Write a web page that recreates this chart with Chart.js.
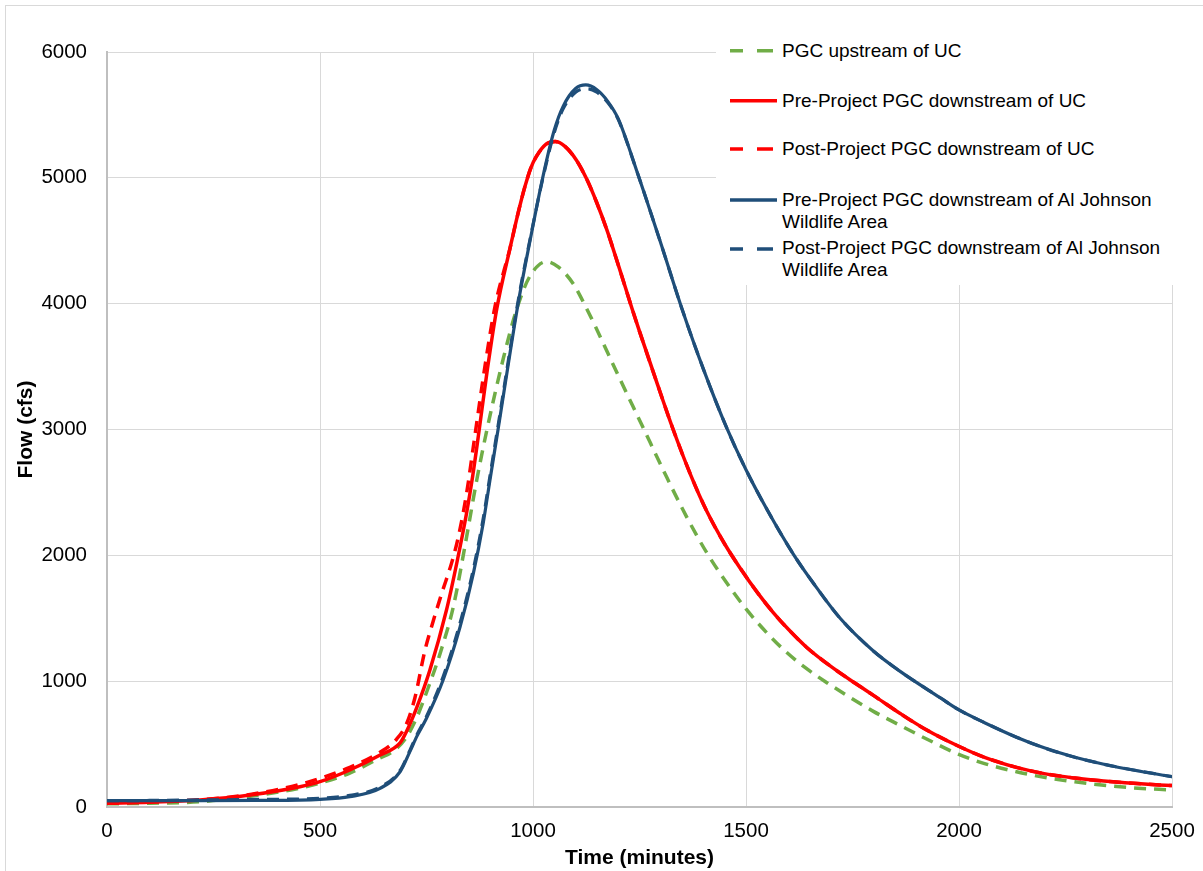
<!DOCTYPE html>
<html>
<head>
<meta charset="utf-8">
<script src="https://cdn.jsdelivr.net/npm/chart.js@4.4.1/dist/chart.umd.min.js"></script>
<style>
html,body{margin:0;padding:0;background:#fff;width:1203px;height:871px;overflow:hidden;font-family:"Liberation Sans",Arial,sans-serif;}
#frame{position:absolute;left:5px;top:5px;width:1300px;height:1000px;border:1px solid #d9d9d9;}
#c{position:absolute;left:0;top:0;}
#legend{position:absolute;left:716px;top:30px;width:487px;height:255px;background:#fff;}
.item{position:absolute;left:66px;font-size:19px;line-height:21.7px;white-space:nowrap;color:#000;}
svg.s{position:absolute;left:0;top:0;overflow:visible;}
</style>
</head>
<body>
<div id="frame"></div>
<canvas id="c" width="1203" height="871"></canvas>
<div id="legend"></div>
<script>
// ---- data (time in minutes, flow in cfs) ----
const seriesLabels = [
  "PGC upstream of UC",
  "Pre-Project PGC downstream of UC",
  "Post-Project PGC downstream of UC",
  "Pre-Project PGC downstream of Al Johnson\nWildlife Area",
  "Post-Project PGC downstream of Al Johnson\nWildlife Area"
];
const xTicks = [0, 500, 1000, 1500, 2000, 2500];
const yTicks = [0, 1000, 2000, 3000, 4000, 5000, 6000];

const upT = [0, 100, 218, 336, 453, 500, 570, 641, 670, 700, 727, 758, 782, 813, 840, 868, 892, 930, 962, 993, 1032, 1060, 1094, 1126, 1149, 1200, 1255, 1314, 1360, 1408, 1455, 1501, 1550, 1595, 1640, 1689, 1740, 1799, 1861, 1930, 1998, 2060, 2135, 2200, 2272, 2340, 2409, 2500];
const upQ = [25, 30, 42, 85, 150, 190, 270, 390, 440, 540, 710, 985, 1221, 1592, 2069, 2599, 3000, 3560, 3960, 4220, 4334, 4290, 4160, 3960, 3800, 3430, 3040, 2620, 2310, 2020, 1780, 1570, 1380, 1230, 1105, 990, 880, 760, 650, 530, 420, 345, 280, 236, 200, 172, 152, 135];

const preUcT = [0, 100, 218, 336, 453, 500, 570, 641, 688, 703, 727, 758, 797, 821, 844, 858, 871, 893, 915, 946, 965, 981, 995, 1008, 1030, 1052, 1075, 1102, 1126, 1150, 1173, 1200, 1232, 1251, 1290, 1329, 1370, 1408, 1450, 1486, 1530, 1564, 1600, 1642, 1700, 1760, 1800, 1861, 1920, 1998, 2060, 2135, 2200, 2272, 2340, 2409, 2500];
const preUcQ = [30, 38, 56, 95, 161, 201, 294, 413, 510, 600, 790, 1089, 1566, 1937, 2334, 2620, 2930, 3480, 3960, 4440, 4720, 4930, 5080, 5170, 5265, 5288, 5250, 5140, 4990, 4800, 4590, 4310, 3966, 3770, 3380, 3000, 2640, 2350, 2090, 1900, 1690, 1545, 1410, 1270, 1115, 975, 885, 745, 620, 485, 395, 315, 265, 230, 206, 188, 170];

const postUcT = [0, 100, 218, 336, 453, 570, 641, 680, 703, 723, 746, 766, 786, 809, 825, 844, 864, 888, 911, 946, 965, 981, 995, 1008, 1030, 1052, 1075, 1102, 1126, 1150, 1173, 1200, 1232, 1251, 1290, 1329, 1370, 1408, 1450, 1486, 1530, 1564, 1600, 1642, 1700, 1760, 1800, 1861, 1920, 1998, 2060, 2135, 2200, 2272, 2340, 2409, 2500];
const postUcQ = [30, 40, 58, 100, 180, 315, 435, 540, 660, 870, 1240, 1480, 1700, 1940, 2150, 2490, 2960, 3520, 3980, 4440, 4720, 4930, 5080, 5170, 5265, 5288, 5250, 5140, 4990, 4800, 4590, 4310, 3966, 3770, 3380, 3000, 2640, 2350, 2090, 1900, 1690, 1545, 1410, 1270, 1115, 975, 885, 745, 620, 485, 395, 315, 265, 230, 206, 188, 170];

const preAjT = [0, 100, 218, 350, 500, 570, 641, 688, 711, 727, 750, 789, 829, 860, 883, 899, 918, 965, 993, 1024, 1050, 1071, 1100, 1124, 1150, 1175, 1200, 1243, 1300, 1349, 1400, 1455, 1500, 1550, 1611, 1660, 1721, 1799, 1861, 1955, 1998, 2060, 2135, 2200, 2272, 2340, 2409, 2500];
const preAjQ = [50, 50, 50, 52, 61, 82, 148, 280, 440, 559, 705, 1009, 1433, 1857, 2254, 2599, 3000, 4000, 4500, 5020, 5380, 5570, 5710, 5738, 5700, 5610, 5470, 5060, 4480, 3966, 3480, 3010, 2680, 2360, 2010, 1770, 1500, 1240, 1080, 870, 775, 670, 555, 470, 395, 340, 294, 241];

const postAjT = [0, 100, 218, 350, 500, 570, 641, 688, 711, 727, 750, 789, 829, 860, 883, 899, 918, 965, 993, 1024, 1050, 1071, 1100, 1128, 1150, 1175, 1200, 1243, 1300, 1349, 1400, 1455, 1500, 1550, 1611, 1660, 1721, 1799, 1861, 1955, 1998, 2060, 2135, 2200, 2272, 2340, 2409, 2500];
const postAjQ = [50, 52, 56, 60, 70, 92, 158, 290, 450, 570, 720, 1035, 1465, 1890, 2290, 2630, 3030, 4020, 4510, 5010, 5360, 5550, 5680, 5708, 5680, 5600, 5465, 5060, 4480, 3966, 3480, 3010, 2680, 2360, 2010, 1770, 1500, 1240, 1080, 870, 775, 670, 555, 470, 395, 340, 294, 241];

const GREEN = '#70AD47', RED = '#FF0000', BLUE = '#1F4E79';
const colors = [GREEN, RED, RED, BLUE, BLUE];
const dashed = [true, false, true, false, true];

function pts(t, q) { return t.map((x, i) => ({ x: x, y: q[i] })); }
const allT = [upT, preUcT, postUcT, preAjT, postAjT];
const allQ = [upQ, preUcQ, postUcQ, preAjQ, postAjQ];

const datasets = allT.map((t, i) => ({
  label: seriesLabels[i],
  data: pts(t, allQ[i]),
  borderColor: colors[i],
  backgroundColor: colors[i],
  borderWidth: i >= 3 ? 3.2 : 3.5,
  borderDash: dashed[i] ? [12, 8] : [],
  borderCapStyle: 'butt',
  borderJoinStyle: 'round',
  pointRadius: 0,
  fill: false,
  cubicInterpolationMode: 'monotone',
  order: 5 - i
}));

new Chart(document.getElementById('c'), {
  type: 'line',
  data: { datasets: datasets },
  options: {
    responsive: false,
    animation: false,
    devicePixelRatio: 1,
    layout: { padding: { left: 0, top: 52, right: 31, bottom: 0 } },
    plugins: { legend: { display: false }, tooltip: { enabled: false } },
    scales: {
      x: {
        type: 'linear', min: 0, max: 2500,
        afterBuildTicks: s => { s.ticks = xTicks.map(v => ({ value: v })); },
        afterFit: s => { s.height = 64; s.paddingRight = 0; s.paddingLeft = 0; },
        ticks: { color: '#000', font: { family: 'Liberation Sans', size: 20.5 }, padding: 12, maxRotation: 0, callback: v => String(v) },
        grid: { color: '#d9d9d9', lineWidth: 1, drawTicks: false },
        border: { color: '#bfbfbf', width: 2 },
        title: { display: true, text: 'Time (minutes)', color: '#000', font: { family: 'Liberation Sans', size: 21, weight: 'bold' }, padding: { top: 0, bottom: 0 } }
      },
      y: {
        type: 'linear', min: 0, max: 6000,
        afterBuildTicks: s => { s.ticks = yTicks.map(v => ({ value: v })); },
        afterFit: s => { s.width = 107; s.paddingTop = 0; s.paddingBottom = 0; },
        ticks: { color: '#000', font: { family: 'Liberation Sans', size: 20.5 }, padding: 20, callback: v => String(v) },
        grid: { color: '#d9d9d9', lineWidth: 1, drawTicks: false },
        border: { color: '#bfbfbf', width: 2 },
        title: { display: true, text: 'Flow (cfs)', color: '#000', font: { family: 'Liberation Sans', size: 21, weight: 'bold' }, padding: { top: 14, bottom: 0 } }
      }
    }
  }
});

// ---- HTML legend ----
const legend = document.getElementById('legend');
const rowTop = [9.85, 59.85, 108.15, 159.15, 207.45];
const sampleY = [20.7, 70.7, 119, 170, 219];
const NS = 'http://www.w3.org/2000/svg';
const svg = document.createElementNS(NS, 'svg');
svg.setAttribute('class', 's');
svg.setAttribute('width', '487');
svg.setAttribute('height', '255');
legend.appendChild(svg);
seriesLabels.forEach((lab, i) => {
  const ln = document.createElementNS(NS, 'line');
  ln.setAttribute('x1', 14); ln.setAttribute('x2', 61);
  ln.setAttribute('y1', sampleY[i]); ln.setAttribute('y2', sampleY[i]);
  ln.setAttribute('stroke', colors[i]);
  ln.setAttribute('stroke-width', 3.5);
  if (dashed[i]) ln.setAttribute('stroke-dasharray', '13,14,16');
  svg.appendChild(ln);
  const d = document.createElement('div');
  d.className = 'item';
  d.style.top = rowTop[i] + 'px';
  d.innerHTML = lab.split('\n').join('<br>');
  legend.appendChild(d);
});
</script>
</body>
</html>
